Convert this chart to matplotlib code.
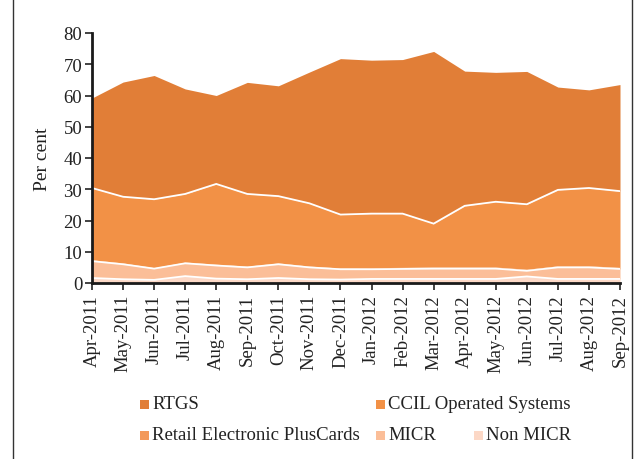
import matplotlib
matplotlib.use("Agg")
import matplotlib.pyplot as plt
import numpy as np
from matplotlib.patches import Rectangle
from matplotlib.lines import Line2D

months = ["Apr-2011", "May-2011", "Jun-2011", "Jul-2011", "Aug-2011", "Sep-2011",
          "Oct-2011", "Nov-2011", "Dec-2011", "Jan-2012", "Feb-2012", "Mar-2012",
          "Apr-2012", "May-2012", "Jun-2012", "Jul-2012", "Aug-2012", "Sep-2012"]

# Shares in per cent, stacked bottom to top
non_micr = [1.6, 1.2, 1.0, 2.2, 1.4, 1.2, 1.6, 1.2, 1.1, 1.3, 1.3, 1.3, 1.3, 1.3, 2.1, 1.3, 1.3, 1.3]
micr = [5.4, 4.8, 3.6, 4.1, 4.2, 3.8, 4.4, 3.8, 3.3, 3.1, 3.2, 3.3, 3.3, 3.3, 1.8, 3.7, 3.7, 3.2]
retail = [0.4, 0.4, 0.3, 0.4, 0.4, 0.4, 0.4, 0.4, 0.4, 0.5, 0.5, 0.5, 0.5, 0.5, 0.5, 0.5, 0.5, 0.5]
ccil = [23.0, 21.2, 21.9, 21.8, 25.7, 23.1, 21.4, 20.1, 17.1, 17.3, 17.2, 13.9, 19.6, 20.9, 20.8, 24.3, 24.9, 24.4]
rtgs = [28.8, 36.7, 39.6, 33.6, 28.3, 35.7, 35.3, 42.0, 49.9, 49.1, 49.3, 55.1, 43.1, 41.4, 42.5, 32.9, 31.4, 34.1]

series_names = ["Non MICR", "MICR", "Retail Electronic PlusCards", "CCIL Operated Systems", "RTGS"]
series = [non_micr, micr, retail, ccil, rtgs]
colors = ["#FCD8C6", "#FBBE98", "#F3995A", "#F29146", "#E17E37"]

plt.rcParams["font.family"] = ["Liberation Serif", "DejaVu Serif"]

fig = plt.figure(figsize=(6.44, 4.60), dpi=100)
W, H = 644, 460
ax = fig.add_axes([92 / W, 1 - 284 / H, (620 - 92) / W, (284 - 34) / H])

x = np.arange(len(months))
data = np.array(series)
cum = np.cumsum(data, axis=0)
lower = np.zeros(len(months))
for vals, col in zip(data, colors):
    ax.fill_between(x, lower, lower + vals, color=col, linewidth=0, zorder=1)
    lower = lower + vals

# white separators between bands
for idx in (0, 1, 3):
    ax.plot(x, cum[idx], color="white", linewidth=1.3, zorder=2, solid_joinstyle="miter")

ax.set_xlim(0, len(months) - 1)
ax.set_ylim(0, 80)
ax.set_yticks(np.arange(0, 81, 10))
ax.set_xticks(x)
ax.set_xticklabels(months, rotation=90, fontsize=13.5, color="#222222")
ax.tick_params(axis="y", labelsize=13.5, length=5, width=1.2, pad=2, colors="#222222")
ax.tick_params(axis="x", length=5, width=1.2, pad=3, colors="#222222")
for s in ("top", "right"):
    ax.spines[s].set_visible(False)
for s in ("left", "bottom"):
    ax.spines[s].set_linewidth(2.0)
    ax.spines[s].set_color("#1a1a1a")
    ax.spines[s].set_zorder(3)
ax.set_ylabel("Per cent", fontsize=14, color="#222222", labelpad=9)

# legend laid out in two rows
legend_items = [
    ("RTGS", colors[4], 140, 405),
    ("CCIL Operated Systems", colors[3], 376, 405),
    ("Retail Electronic PlusCards", colors[2], 140, 436),
    ("MICR", colors[1], 376, 436),
    ("Non MICR", colors[0], 474, 436),
]
for name, col, px, py in legend_items:
    fig.patches.append(Rectangle((px / W, 1 - (py + 5) / H), 9 / W, 9 / H,
                                 transform=fig.transFigure, facecolor=col,
                                 edgecolor="none"))
    fig.text((px + 12) / W, 1 - py / H, name, fontsize=13.5, color="#222222",
             va="center", ha="left")

# outer frame lines
fig.add_artist(Line2D([13 / W, 13 / W], [0, 1], transform=fig.transFigure,
                      color="#333333", linewidth=1.0))
fig.add_artist(Line2D([632 / W, 632 / W], [0, 1], transform=fig.transFigure,
                      color="#333333", linewidth=1.0))

fig.savefig("out.png", dpi=100)
